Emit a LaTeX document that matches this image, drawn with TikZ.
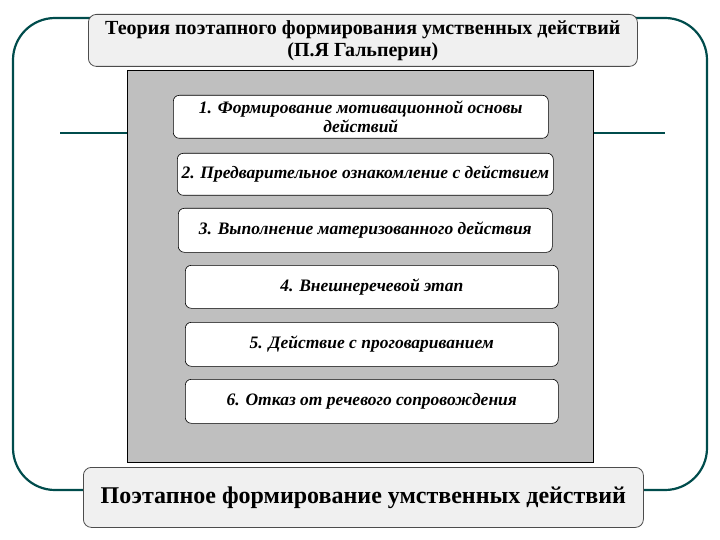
\documentclass[tikz,border=0pt]{standalone}
\usepackage{fontspec}
\setmainfont{Liberation Serif}
\begin{document}
\begin{tikzpicture}[x=1pt,y=-1pt,
  marble/.style={draw=black!70,rounded corners=8pt,fill=gray!12,line width=0.8pt,align=center,inner sep=0pt},
  stepbox/.style={draw=black,rounded corners=6pt,fill=white,line width=0.6pt,align=center,inner sep=0pt,font=\bfseries\itshape\fontsize{17.5}{19}\selectfont},
  frame/.style={draw=teal!60!black,line width=2.2pt}]
\useasboundingbox (0,0) rectangle (720,540);
\draw[frame,rounded corners=42pt] (13,18) rectangle (707,490);
\draw[frame] (60,133) -- (665,133);
\node[draw=black,fill=gray!50,minimum width=466pt,minimum height=392pt,anchor=north west,inner sep=0pt] (panel) at (127,70) {};
\node[marble,minimum width=549pt,minimum height=52pt,anchor=north west,font=\bfseries\fontsize{20}{22}\selectfont] (title) at (88,14) {Теория поэтапного формирования умственных действий\\(П.Я Гальперин)};
\node[stepbox,minimum width=375pt,minimum height=43pt,anchor=north west] (s1) at (173,95) {1. Формирование мотивационной основы\\действий};
\node[stepbox,minimum width=376pt,minimum height=42pt,anchor=north west] (s2) at (177,153) {2. Предварительное ознакомление с действием};
\node[stepbox,minimum width=374pt,minimum height=44pt,anchor=north west] (s3) at (178,208) {3. Выполнение материзованного действия};
\node[stepbox,minimum width=373pt,minimum height=43pt,anchor=north west] (s4) at (185,265) {4. Внешнеречевой этап};
\node[stepbox,minimum width=373pt,minimum height=44pt,anchor=north west] (s5) at (185,322) {5. Действие с проговариванием};
\node[stepbox,minimum width=373pt,minimum height=44pt,anchor=north west] (s6) at (185,379) {6. Отказ от речевого сопровождения};
\node[marble,minimum width=560pt,minimum height=60pt,anchor=north west,font=\bfseries\fontsize{24}{28}\selectfont] (bottom) at (83,467) {Поэтапное формирование умственных действий};
\end{tikzpicture}
\end{document}
